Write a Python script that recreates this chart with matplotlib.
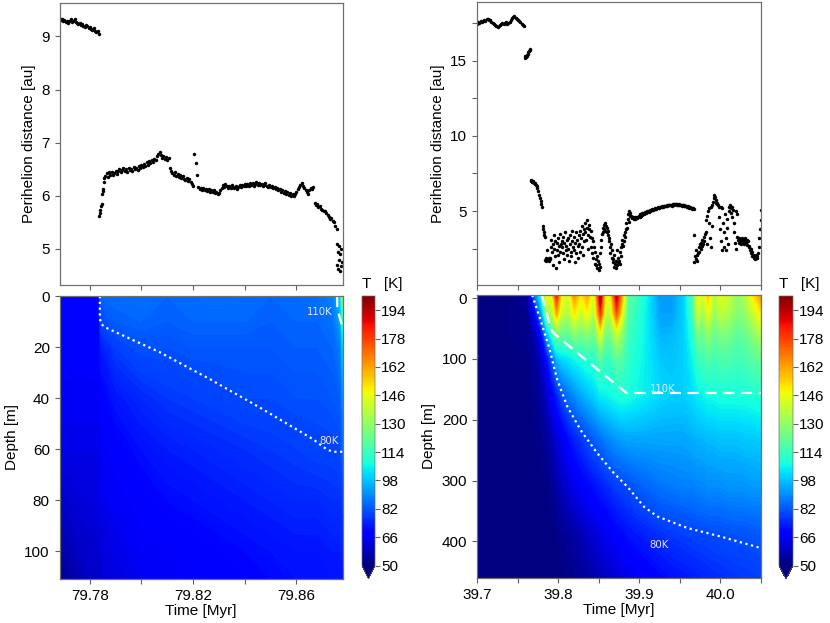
import numpy as np
import matplotlib
matplotlib.use("Agg")
from matplotlib import pyplot as plt

plt.rcParams['font.family'] = ['Liberation Sans', 'DejaVu Sans']
plt.rcParams['font.size'] = 11

# ---------------- perihelion distance, first run [Myr, au] ----------------
# each piece: first time, last time, values (evenly sampled in between)
left_a = (79.7682, 79.7835, [
    9.36, 9.31, 9.33, 9.29, 9.31, 9.27, 9.30, 9.26, 9.29, 9.32,
    9.27, 9.30, 9.33, 9.28, 9.25, 9.23, 9.26, 9.22, 9.24, 9.20,
    9.17, 9.22, 9.19, 9.15, 9.18, 9.14, 9.12, 9.16, 9.11, 9.08,
    9.10, 9.05])
left_b = (79.7837, 79.7857, [5.62, 5.68, 5.74, 5.80, 5.85, 6.04, 6.09, 6.12, 6.26, 6.33])
left_c = (79.7860, 79.8755, [
    6.38, 6.42, 6.36, 6.44, 6.40, 6.45, 6.39, 6.43, 6.47, 6.41,
    6.46, 6.50, 6.44, 6.48, 6.52, 6.46, 6.50, 6.45, 6.53, 6.48,
    6.51, 6.47, 6.55, 6.50, 6.53, 6.48, 6.56, 6.52, 6.58, 6.54,
    6.60, 6.56, 6.63, 6.58, 6.66, 6.62, 6.68, 6.64, 6.70, 6.67,
    6.74, 6.78, 6.82, 6.76, 6.72, 6.75, 6.70, 6.73, 6.68, 6.71,
    6.52, 6.46, 6.43, 6.40, 6.44, 6.38, 6.41, 6.36, 6.39, 6.34,
    6.37, 6.32, 6.30, 6.34, 6.28, 6.31, 6.26, 6.22, 6.18, 6.78,
    6.62, 6.40, 6.16, 6.12, 6.15, 6.10, 6.14, 6.11, 6.13, 6.09,
    6.12, 6.08, 6.11, 6.07, 6.10, 6.05, 6.08, 6.04, 6.06, 6.10,
    6.14, 6.20, 6.16, 6.22, 6.18, 6.15, 6.19, 6.14, 6.21, 6.17,
    6.15, 6.19, 6.13, 6.17, 6.21, 6.16, 6.20, 6.18, 6.22, 6.19,
    6.23, 6.18, 6.25, 6.21, 6.24, 6.19, 6.23, 6.26, 6.21, 6.24,
    6.20, 6.22, 6.18, 6.21, 6.24, 6.19, 6.17, 6.20, 6.16, 6.19,
    6.14, 6.17, 6.12, 6.15, 6.10, 6.13, 6.08, 6.11, 6.06, 6.09,
    6.04, 6.07, 6.02, 6.05, 6.00, 6.03, 5.99, 6.04, 6.08, 6.12,
    6.16, 6.20, 6.24, 6.18, 6.14, 6.10, 6.07, 6.04, 6.10, 6.14,
    6.12, 6.16, 5.86, 5.82, 5.84, 5.79, 5.81, 5.76, 5.74, 5.71,
    5.72, 5.68, 5.64, 5.60, 5.56, 5.58, 5.52, 5.50, 5.44, 5.38])
left_d = (79.8756, 79.8776, [5.10, 4.70, 4.95, 4.62, 5.05, 4.80, 4.58, 4.90, 5.00, 4.68, 4.75])

# ---------------- perihelion distance, second run [Myr, au] ----------------
right_a = (39.7000, 39.7580, [
    17.45, 17.55, 17.50, 17.62, 17.58, 17.66, 17.70, 17.64, 17.74, 17.78,
    17.72, 17.68, 17.60, 17.52, 17.44, 17.38, 17.30, 17.22, 17.28, 17.36,
    17.45, 17.50, 17.42, 17.48, 17.55, 17.46, 17.52, 17.58, 17.70, 17.82,
    17.90, 17.95, 17.86, 17.80, 17.72, 17.64, 17.55, 17.42, 17.35, 17.30])
right_b = (39.7590, 39.7655, [15.20, 15.28, 15.25, 15.35, 15.32, 15.45, 15.55, 15.62, 15.70, 15.80])
right_c = (39.7660, 39.7735, [7.05, 7.00, 6.95, 6.98, 6.90, 6.85, 6.88, 6.80, 6.72, 6.65])
right_d = (39.7740, 39.7805, [6.55, 6.30, 6.05, 5.85, 5.65, 5.45, 5.30])
right_e = (39.7810, 39.7835, [4.00, 3.80, 3.60, 3.40, 3.30])
right_f = (39.7840, 39.8883, [
    1.75, 1.85, 1.68, 1.80, 2.40, 1.72, 1.88, 1.65, 1.78, 1.90,
    2.60, 3.10, 2.30, 1.40, 2.80, 3.40, 2.50, 2.00, 3.00, 1.20,
    2.40, 2.90, 3.20, 2.10, 1.60, 2.70, 3.50, 2.30, 2.80, 3.00,
    2.60, 2.20, 3.30, 1.80, 2.90, 3.60, 2.40, 2.70, 2.10, 3.10,
    2.50, 3.20, 1.70, 2.80, 3.40, 2.30, 2.00, 3.00, 3.70, 2.60,
    3.30, 2.40, 1.60, 2.90, 3.60, 2.20, 3.10, 2.70, 1.90, 3.40,
    2.80, 3.70, 2.30, 3.20, 4.00, 2.60, 3.50, 2.10, 3.80, 3.00,
    3.60, 4.20, 3.10, 3.90, 4.40, 3.40, 2.50, 3.80, 4.10, 3.30,
    3.70, 2.60, 3.20, 2.20, 3.00, 1.90, 2.60, 1.50, 2.30, 1.80,
    1.40, 2.00, 1.20, 1.70, 1.10, 1.50, 2.20, 1.30, 2.60, 3.10,
    3.50, 3.90, 3.60, 4.10, 3.80, 4.20, 3.70, 4.00, 3.60, 3.90,
    3.70, 3.40, 3.00, 3.20, 2.60, 2.20, 2.80, 1.90, 2.40, 1.60,
    1.80, 1.30, 2.10, 1.50, 1.20, 1.70, 2.40, 1.40, 1.90, 1.60,
    1.70, 2.30, 1.50, 2.60, 2.00, 2.80, 3.10, 2.70, 3.40, 3.00,
    3.60, 3.30, 3.80, 4.20, 3.90, 4.50, 4.80, 4.30, 5.00, 4.70])
right_g = (39.8890, 39.9670, [
    4.85, 4.70, 4.62, 4.55, 4.60, 4.50, 4.58, 4.48, 4.55, 4.62,
    4.52, 4.60, 4.70, 4.58, 4.78, 4.66, 4.85, 4.74, 4.90, 4.80,
    4.88, 4.95, 4.86, 5.00, 4.92, 5.02, 4.96, 5.06, 5.00, 5.08,
    5.05, 5.12, 5.08, 5.16, 5.12, 5.20, 5.15, 5.22, 5.18, 5.25,
    5.22, 5.28, 5.24, 5.30, 5.27, 5.32, 5.28, 5.34, 5.31, 5.36,
    5.33, 5.38, 5.35, 5.40, 5.37, 5.42, 5.38, 5.40, 5.36, 5.41,
    5.44, 5.46, 5.42, 5.45, 5.47, 5.43, 5.46, 5.42, 5.44, 5.40,
    5.43, 5.38, 5.41, 5.36, 5.39, 5.34, 5.37, 5.32, 5.35, 5.30,
    5.28, 5.32, 5.25, 5.22, 5.26, 5.18, 5.22, 5.15, 5.18, 5.12])
right_h = (39.9670, 40.0503, [
    3.40, 1.60, 2.00, 1.80, 2.40, 2.10, 1.70,
    2.20, 2.60, 2.30, 2.80, 2.50, 2.90, 2.70, 3.10, 2.80, 3.30, 3.00, 3.50,
    4.40, 3.60, 4.70, 2.80, 5.00, 4.20, 5.20, 3.20, 5.30, 2.60, 5.40, 4.00,
    5.60, 5.85, 6.05, 5.90, 5.70, 5.55, 5.50, 5.45,
    5.40, 4.60, 5.30, 3.80, 5.25, 3.00, 5.20, 2.40,
    4.20, 3.60, 2.60, 4.80, 3.20, 2.40, 4.50, 3.90, 2.80, 5.00, 5.30, 5.40, 5.20, 4.90,
    5.30, 4.60, 5.10, 4.20, 3.60, 2.90, 5.00, 2.50, 3.30, 4.80,
    3.10, 2.90, 3.20, 3.00, 2.80, 3.10, 3.20, 2.90, 3.00, 2.80, 3.10, 3.20,
    2.95, 2.85, 3.05, 2.75, 3.00, 2.70,
    2.60, 2.40, 2.50, 2.20, 2.30, 2.00, 2.10, 1.90, 2.00, 1.80,
    1.90, 2.10, 1.85, 2.00, 2.20, 2.60, 3.20, 3.80, 4.40, 5.10])

# ---------------- subsurface temperature, first run [Myr, m, K] ----------------
left_time = [79.7683, 79.772, 79.776, 79.780, 79.7836, 79.7842, 79.790, 79.800, 79.810,
             79.820, 79.830, 79.840, 79.850, 79.860, 79.868, 79.874, 79.8770, 79.8778]
left_depth = [0, 10, 20, 40, 60, 80, 100, 110.8]
left_temp = [
    [70, 70, 70, 70, 70, 84, 85, 86, 84, 85, 86, 85, 84, 85, 86, 88, 100, 128],
    [69, 69, 69, 69, 69, 80, 83, 84, 83, 84, 84, 84, 83, 84, 84, 86, 94, 112],
    [68, 68, 68, 68, 68, 73, 78, 81, 81, 82, 82, 82, 82, 83, 83, 84, 88, 100],
    [66, 66, 66, 66, 66, 68, 72, 75, 77, 78, 79, 80, 80, 81, 81, 82, 83, 90],
    [64, 64, 64, 64, 64, 66, 68, 71, 73, 74, 75, 76, 77, 78, 79, 79, 80, 84],
    [60, 61, 62, 62, 63, 64, 66, 68, 70, 71, 72, 73, 74, 75, 75, 76, 76, 78],
    [55, 57, 59, 60, 61, 62, 64, 66, 67, 68, 69, 70, 71, 72, 72, 73, 73, 74],
    [53, 55, 57, 59, 60, 61, 63, 65, 66, 67, 68, 69, 70, 71, 71, 72, 72, 72],
]
# deepest reach of the isotherms
left_80_t = [79.7839, 79.7839, 79.7845, 79.7858, 79.8071, 79.8264, 79.8457, 79.8663, 79.8715, 79.8740, 79.8778]
left_80_d = [0, 8.9, 11.0, 12.2, 22.0, 32.5, 43.6, 56.0, 59.9, 61.0, 61.0]
left_110_t = [79.8757, 79.8758, 79.8766, 79.8776]
left_110_d = [0, 4.5, 8.0, 11.5]

# ---------------- subsurface temperature, second run [Myr, m, K] ----------------
right_time = [39.700, 39.740, 39.762, 39.772, 39.780, 39.786, 39.792, 39.798, 39.804, 39.812,
              39.820, 39.828, 39.836, 39.844, 39.852, 39.858, 39.864, 39.872, 39.878, 39.886,
              39.896, 39.910, 39.925, 39.940, 39.955, 39.966, 39.972, 39.978, 39.985, 39.992,
              40.000, 40.010, 40.020, 40.030, 40.040, 40.050]
right_depth = [-5, 25, 60, 100, 160, 230, 310, 390, 460]
right_temp = [
    [51, 51, 53, 88, 112, 150, 145, 185, 150, 140, 165, 150, 160, 140, 200, 150, 145, 195,
     165, 120, 115, 105, 92, 92, 100, 118, 150, 140, 155, 135, 145, 140, 130, 135, 150, 165],
    [51, 51, 52, 70, 95, 128, 135, 160, 140, 135, 150, 140, 148, 135, 180, 140, 138, 175,
     150, 118, 112, 104, 93, 93, 100, 115, 140, 132, 145, 130, 138, 135, 127, 130, 140, 150],
    [50.5, 51, 51.5, 58, 72, 95, 110, 125, 122, 120, 128, 124, 128, 122, 145, 125, 124, 140,
     130, 115, 110, 104, 96, 96, 100, 110, 125, 122, 130, 122, 126, 125, 120, 122, 128, 135],
    [50, 50.5, 51, 54, 60, 70, 82, 96, 101, 103, 106, 108, 111, 111, 120, 113, 113, 120,
     118, 112, 108, 104, 99, 98, 100, 106, 114, 114, 118, 115, 117, 117, 115, 116, 119, 122],
    [50, 50, 50.5, 52, 55, 60, 66, 73, 80, 86, 90, 94, 97, 100, 104, 105, 106, 108,
     109, 108, 106, 104, 101, 100, 100, 102, 104, 105, 107, 107, 108, 108, 108, 108, 109, 110],
    [50, 50, 50, 51, 52, 54, 57, 61, 65, 70, 74, 77, 80, 83, 86, 88, 90, 92,
     93, 94, 94, 94, 94, 94, 94, 95, 96, 96, 97, 97, 98, 98, 98, 99, 99, 100],
    [50, 50, 50, 50, 50.5, 51, 52.5, 55, 58, 61, 64, 67, 69, 71, 73, 74.5, 76, 78,
     79, 80, 82, 84, 86, 87, 88, 88, 89, 89, 90, 90, 90, 91, 91, 91, 92, 92],
    [50, 50, 50, 50, 50, 50, 50.5, 51, 52, 53.5, 55, 57, 59, 61, 63, 64.5, 66, 68,
     69, 71, 72.5, 74, 76, 77, 78, 78.5, 79, 79, 79.5, 80, 80, 80.5, 81, 81, 81.5, 82],
    [50, 50, 50, 50, 50, 50, 50, 50, 50.5, 51, 52, 53, 54.5, 56, 57.5, 58.5, 59.5, 61,
     62, 63.5, 65, 67, 69, 71, 72, 73, 73.5, 74, 74.5, 75, 75.5, 76, 76.5, 77, 77.5, 78],
]
right_80_t = [39.768, 39.7782, 39.7885, 39.7989, 39.8112, 39.8277, 39.8483, 39.8689,
              39.8854, 39.9059, 39.9225, 39.9596, 40.0007, 40.0503]
right_80_d = [-5, 35.7, 79.6, 134, 178, 217, 255, 288, 310, 343, 359, 378, 392, 411]
right_110_t = [39.7800, 39.7906, 39.7947, 39.8318, 39.8843, 40.0503]
right_110_d = [-5, 50, 58, 99, 156, 156]

t_levels = np.arange(50, 202.5, 1)
t_ticks = np.arange(50, 195, 16)

W, H = 830, 623
fig = plt.figure(figsize=(W / 100, H / 100), dpi=100)


def box(l, t, r, b):
    return [l / W, 1 - b / H, (r - l) / W, (b - t) / H]


def pieces(*segs):
    ts, qs = [], []
    for t0, t1, vals in segs:
        ts.append(np.linspace(t0, t1, len(vals)))
        qs.append(np.array(vals))
    return np.concatenate(ts), np.concatenate(qs)


def style(ax):
    for s in ax.spines.values():
        s.set_color('#707070')
        s.set_linewidth(0.9)
    ax.tick_params(color='#606060', labelsize=11, length=3.5, width=0.8)


def temp_panel(ax, cax, tt, dd, field, l80, l110, lab110, lab80, xlim, ylim):
    cs = ax.contourf(tt, dd, np.array(field), levels=t_levels, cmap='jet', extend='min')
    ax.plot(l80[0], l80[1], color='white', ls=(0, (1, 1.6)), lw=1.6)
    ax.plot(l110[0], l110[1], color='white', ls=(0, (5, 3)), lw=1.6)
    for (x, y), s in ((lab110, '110K'), (lab80, '80K')):
        ax.text(x, y, s, color='#e8e8f4', fontsize=7.3, family='DejaVu Sans',
                ha='center', va='center')
    ax.set_xlim(*xlim)
    ax.set_ylim(*ylim)
    ax.set_ylabel('Depth [m]')
    ax.set_xlabel('Time [Myr]', labelpad=1)
    style(ax)
    cb = fig.colorbar(cs, cax=cax, ticks=t_ticks)
    cb.outline.set_linewidth(0.5)
    cb.outline.set_edgecolor('#707070')
    cax.tick_params(labelsize=11, length=3.5, color='#606060', pad=1)
    cax.text(0.0, 1.017, 'T   [K]', transform=cax.transAxes, ha='left', va='bottom', fontsize=11)


# ---- left column ----
ax1 = fig.add_axes(box(59.5, 3, 342.5, 285))
t, q = pieces(left_a, left_b, left_c, left_d)
ax1.plot(t, q, 'o', ms=2.5, mew=0, color='black')
ax1.set_xlim(79.7683, 79.8778)
ax1.set_ylim(4.32, 9.63)
ax1.set_yticks([5, 6, 7, 8, 9])
ax1.set_xticks([79.78, 79.80, 79.82, 79.84, 79.86])
ax1.set_xticklabels([])
ax1.set_ylabel('Perihelion distance [au]')
style(ax1)

ax2 = fig.add_axes(box(59.5, 296, 342.5, 579))
cax2 = fig.add_axes(box(362, 296, 375, 579))
temp_panel(ax2, cax2, left_time, left_depth, left_temp,
           (left_80_t, left_80_d), (left_110_t, left_110_d),
           (79.8689, 6.4), (79.8725, 56.7), (79.7683, 79.8778), (110.8, 0))
ax2.set_yticks([0, 20, 40, 60, 80, 100])
ax2.set_xticks([79.78, 79.80, 79.82, 79.84, 79.86])
ax2.set_xticklabels(['79.78', '', '79.82', '', '79.86'])

# ---- right column ----
ax3 = fig.add_axes(box(477, 2, 761, 285))
t, q = pieces(right_a, right_b, right_c, right_d, right_e, right_f, right_g, right_h)
ax3.plot(t, q, 'o', ms=2.5, mew=0, color='black')
ax3.set_xlim(39.7, 40.05)
ax3.set_ylim(0.08, 18.9)
ax3.set_yticks([2.5, 5, 7.5, 10, 12.5, 15, 17.5])
ax3.set_yticklabels(['', '5', '', '10', '', '15', ''])
ax3.set_xticks([39.70, 39.75, 39.80, 39.85, 39.90, 39.95, 40.00, 40.05])
ax3.set_xticklabels([])
ax3.set_ylabel('Perihelion distance [au]')
style(ax3)

ax4 = fig.add_axes(box(477, 295, 761, 578))
cax4 = fig.add_axes(box(779, 296, 793, 579))
temp_panel(ax4, cax4, right_time, right_depth, right_temp,
           (right_80_t, right_80_d), (right_110_t, right_110_d),
           (39.9287, 148.7), (39.9245, 406), (39.7, 40.05), (460, -5))
ax4.set_yticks([0, 100, 200, 300, 400])
ax4.set_xticks([39.70, 39.75, 39.80, 39.85, 39.90, 39.95, 40.00, 40.05])
ax4.set_xticklabels(['39.7', '', '39.8', '', '39.9', '', '40.0', ''])

fig.savefig('out.png', dpi=100)
